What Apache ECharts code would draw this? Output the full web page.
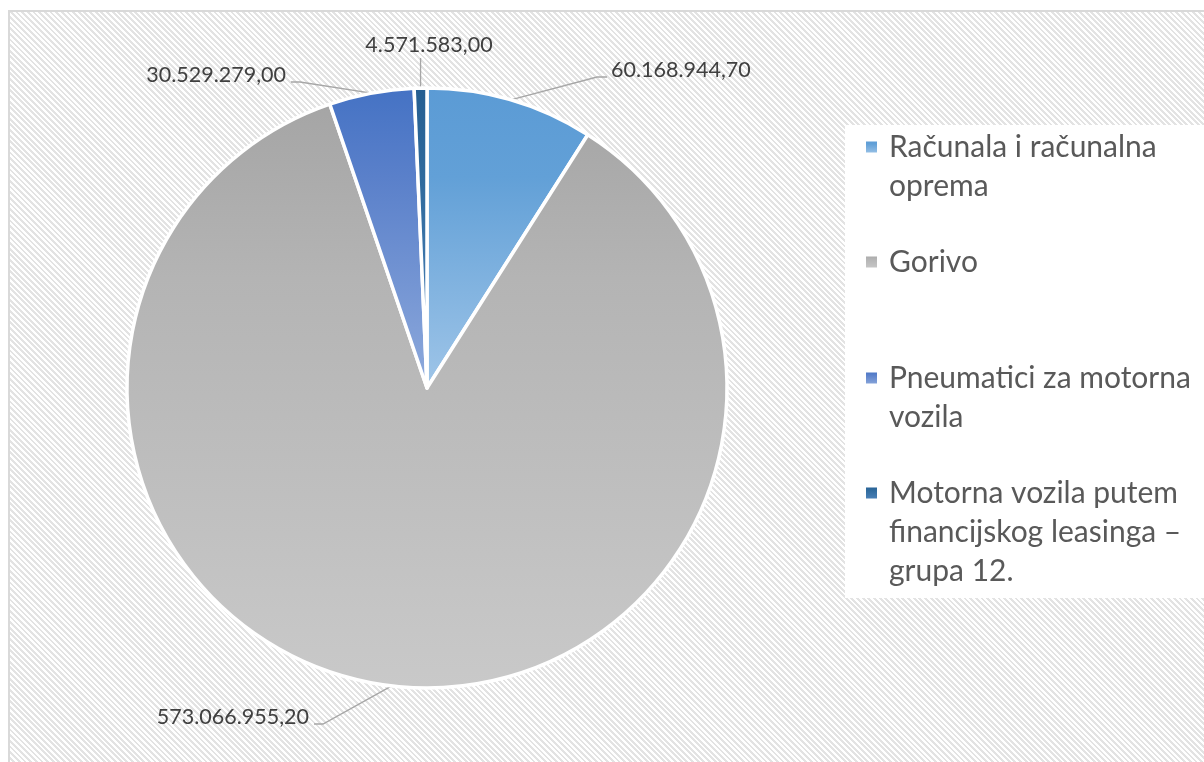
<!DOCTYPE html>
<html>
<head>
<meta charset="utf-8">
<script src="https://cdn.jsdelivr.net/npm/echarts@6/dist/echarts.min.js"></script>
<style>
  html, body { margin: 0; padding: 0; width: 1204px; height: 762px; overflow: hidden; background: #fff; }
  #bg { position: absolute; left: 8px; top: 10px; width: 1300px; height: 900px;
        border-left: 2px solid #d9d9d9; border-top: 2px solid #d9d9d9;
        background: repeating-linear-gradient(45deg, #e3e3e3 0px, #e3e3e3 2px, #ffffff 2px, #ffffff 4px); }
  #chart { position: absolute; left: 0; top: 0; width: 1204px; height: 762px; }
</style>
</head>
<body>
<div id="bg"></div>
<div id="chart"></div>
<script>
// ---- data ----
var categories = [
  'Računala i računalna oprema',
  'Gorivo',
  'Pneumatici za motorna vozila',
  'Motorna vozila putem financijskog leasinga – grupa 12.'
];
var values = [60168944.70, 573066955.20, 30529279.00, 4571583.00];
var legendLabels = [
  'Računala i računalna\noprema',
  'Gorivo',
  'Pneumatici za motorna\nvozila',
  'Motorna vozila putem\nfinancijskog leasinga –\ngrupa 12.'
];

// ---- styles ----
var gradients = [
  ['#5b9bd5', '#62a0d7', '#9fc5e8'],
  ['#a5a5a5', '#b4b4b4', '#c9c9c9'],
  ['#4472c4', '#5a80ca', '#8eaadc'],
  ['#255e91', '#2f6a9d', '#4f84bb']
];
var legendCenters = [147, 262, 378, 493];
var LINE_H = 39;
var labelPlacement = [
  { x: 611, y: 70, align: 'left' },
  { x: 309, y: 717, align: 'right' },
  { x: 286, y: 75, align: 'right' },
  { x: 429, y: 45, align: 'center' }
];

function fmt(v) {
  var parts = v.toFixed(2).split('.');
  var intPart = parts[0].replace(/\B(?=(\d{3})+(?!\d))/g, '.');
  return intPart + ',' + parts[1];
}

function grad(c) {
  return { type: 'linear', x: 0, y: 0, x2: 0, y2: 1,
    colorStops: [{ offset: 0, color: c[0] }, { offset: 0.3, color: c[1] }, { offset: 1, color: c[2] }] };
}

var seriesData = categories.map(function (name, i) {
  return { name: name, value: values[i], itemStyle: { color: grad(gradients[i]) } };
});

var legends = categories.map(function (name, i) {
  var n = legendLabels[i].split('\n').length;
  var prefix = new Array(n).join('\n'); // (n-1) empty lines so the first text line sits at the icon
  return {
    show: true,
    orient: 'vertical',
    left: 864,
    top: legendCenters[i] - (2 * n - 1) * LINE_H / 2,
    padding: 0,
    itemWidth: 13,
    itemHeight: 13,
    icon: 'rect',
    selectedMode: false,
    data: [name],
    formatter: function () { return prefix + legendLabels[i]; },
    textStyle: { fontFamily: 'Lato', fontSize: 30, color: '#595959', lineHeight: LINE_H, padding: [0, 0, 0, 6] }
  };
});

var chart = echarts.init(document.getElementById('chart'), null, { renderer: 'canvas' });
chart.setOption({
  backgroundColor: 'transparent',
  animation: false,
  graphic: [{
    type: 'rect', z: -10, silent: true,
    shape: { x: 845, y: 125, width: 360, height: 473 },
    style: { fill: '#ffffff' }
  }],
  legend: legends,
  series: [{
    type: 'pie',
    center: [427, 388],
    radius: 300,
    startAngle: 90,
    clockwise: true,
    avoidLabelOverlap: false,
    emphasis: { disabled: true },
    itemStyle: { borderColor: '#ffffff', borderWidth: 3.5 },
    label: {
      show: true,
      position: 'outside',
      formatter: function (p) { return fmt(p.value); },
      fontFamily: 'Lato',
      fontSize: 21.5,
      color: '#404040'
    },
    labelLine: { show: true, lineStyle: { color: '#a6a6a6', width: 1.3 } },
    labelLayout: function (p) {
      var pl = labelPlacement[p.dataIndex];
      var start = p.labelLinePoints ? p.labelLinePoints[0] : null;
      var out = { x: pl.x, y: pl.y, align: pl.align, verticalAlign: 'middle' };
      if (start) {
        var pts;
        if (pl.align === 'left') {
          pts = [start, [pl.x - 14, pl.y + 7], [pl.x - 4, pl.y + 7]];
        } else if (pl.align === 'right') {
          pts = [start, [pl.x + 14, pl.y + 7], [pl.x + 5, pl.y + 7]];
        } else {
          pts = [start, [start[0], pl.y + 20], [start[0], pl.y + 13]];
        }
        out.labelLinePoints = pts;
      }
      return out;
    },
    data: seriesData
  }]
});
</script>
</body>
</html>
